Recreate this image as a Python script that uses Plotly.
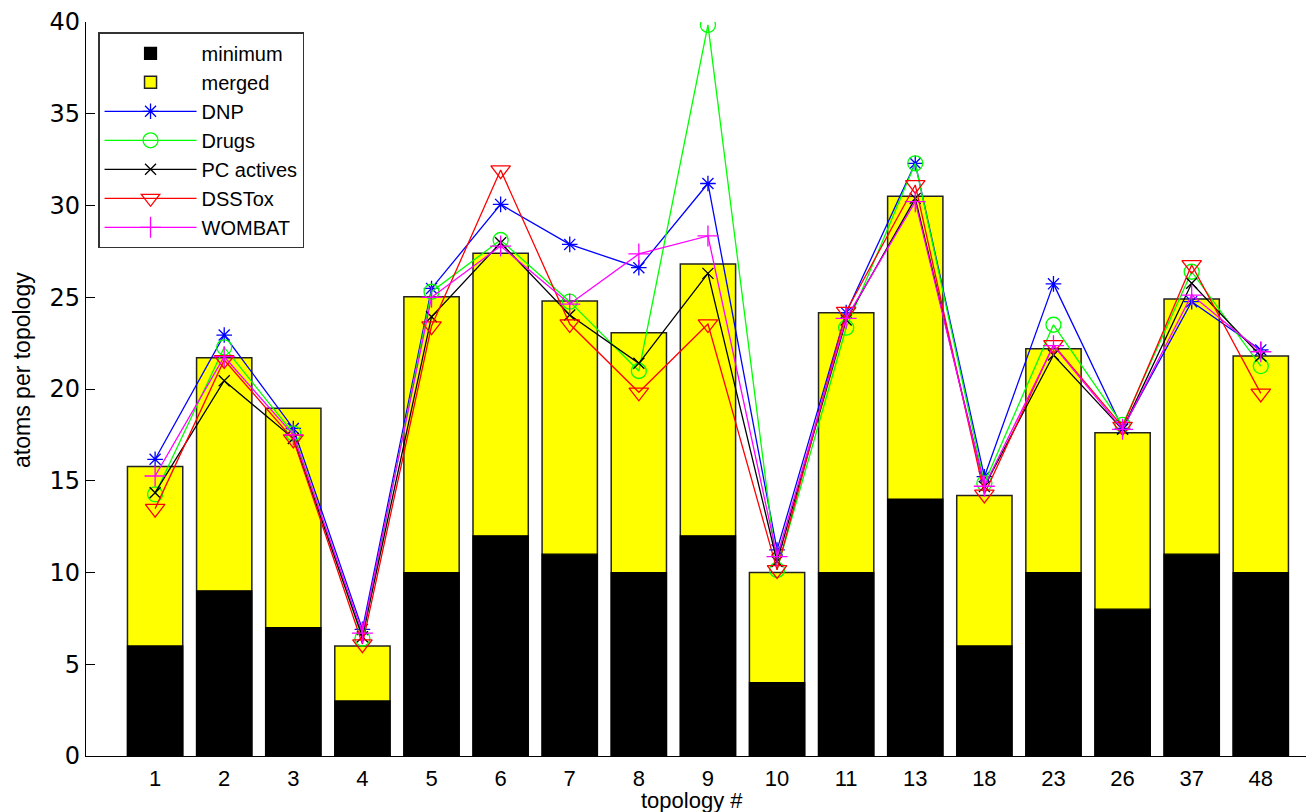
import plotly.graph_objects as go

topologies = ["1", "2", "3", "4", "5", "6", "7", "8", "9", "10", "11", "13", "18", "23", "26", "37", "48"]
minimum = [6, 9, 7, 3, 10, 12, 11, 10, 12, 4, 10, 14, 6, 10, 8, 11, 10]
merged = [15.77, 21.7, 18.95, 6.0, 25.03, 27.4, 24.8, 23.07, 26.81, 10.0, 24.16, 30.5, 14.2, 22.2, 17.62, 24.9, 21.8]
dnp = [16.17, 22.94, 17.85, 6.9, 25.48, 30.06, 27.88, 26.61, 31.2, 11.23, 24.16, 32.3, 15.22, 25.73, 17.85, 24.76, 22.13]
drugs = [14.26, 22.27, 17.58, 6.4, 25.3, 28.12, 24.76, 20.98, 39.84, 10.14, 23.34, 32.3, 14.86, 23.5, 18.05, 26.39, 21.25]
pc_actives = [14.35, 20.45, 17.3, 6.5, 23.94, 27.97, 24.03, 21.4, 26.3, 10.6, 23.76, 30.39, 14.68, 21.85, 17.8, 25.76, 21.8]
dsstox = [13.48, 21.58, 17.25, 6.1, 23.43, 31.93, 23.54, 19.82, 23.54, 10.14, 24.22, 31.12, 14.26, 22.4, 17.95, 26.76, 19.76]
wombat = [15.26, 21.76, 17.5, 6.7, 25.0, 27.79, 24.63, 27.36, 28.34, 10.86, 23.85, 30.21, 14.7, 22.36, 17.8, 25.12, 22.03]

pos = list(range(1, len(topologies) + 1))

fig = go.Figure()
# merged drawn first (behind), minimum in front
fig.add_trace(go.Bar(x=pos, y=merged, name="merged", legendrank=2,
                     marker=dict(color="#FFFF00", line=dict(color="#222222", width=1.5)), width=0.8))
fig.add_trace(go.Bar(x=pos, y=minimum, name="minimum", legendrank=1,
                     marker=dict(color="black", line=dict(color="black", width=1.2)), width=0.8))

series = [
    ("DNP", dnp, "#0000FF", "asterisk-open", 13),
    ("Drugs", drugs, "#00FF00", "circle-open", 15),
    ("PC actives", pc_actives, "#000000", "x-thin-open", 11),
    ("DSSTox", dsstox, "#FF0000", "triangle-down-open", 17),
    ("WOMBAT", wombat, "#FF00FF", "cross-thin-open", 15),
]
for i, (name, vals, col, sym, sz) in enumerate(series):
    fig.add_trace(go.Scatter(x=pos, y=vals, name=name, mode="lines+markers", legendrank=3 + i,
                             line=dict(color=col, width=1.3),
                             marker=dict(symbol=sym, size=sz, color=col, line=dict(color=col, width=1.3))))

fig.update_layout(
    width=1306, height=804,
    barmode="overlay",
    plot_bgcolor="white", paper_bgcolor="white",
    margin=dict(l=78, r=0, t=14, b=56),
    font=dict(family="Liberation Sans, Arial, sans-serif", color="black"),
    showlegend=True,
    legend=dict(x=0.0098, y=0.986, xanchor="left", yanchor="top",
                bgcolor="white", bordercolor="#333333", borderwidth=1.5,
                font=dict(size=20), itemwidth=92, tracegroupgap=0),
    annotations=[
        dict(text="topology #", xref="paper", yref="paper", x=0.4935, y=-0.0600,
             xanchor="center", yanchor="middle", showarrow=False, font=dict(size=22)),
        dict(text="atoms per topology", xref="paper", yref="paper", x=-0.0521, y=0.526,
             xanchor="center", yanchor="middle", textangle=-90, showarrow=False, font=dict(size=23)),
    ],
)
fig.update_xaxes(range=[0, 17.77], tickvals=pos, ticktext=topologies, automargin=False,
                 showline=True, linecolor="black", linewidth=1.2, showgrid=False, zeroline=False,
                 ticks="outside", ticklen=2, tickcolor="rgba(0,0,0,0)", tickfont=dict(size=22))
fig.update_yaxes(range=[0, 40], tickvals=[0, 5, 10, 15, 20, 25, 30, 35, 40], automargin=False,
                 showline=True, linecolor="black", linewidth=1.2, showgrid=False, zeroline=False,
                 ticks="inside", ticklen=9, tickcolor="black",
                 tickfont=dict(size=24, family="DejaVu Sans, Liberation Sans, Arial"))

fig.write_html("out.html")
